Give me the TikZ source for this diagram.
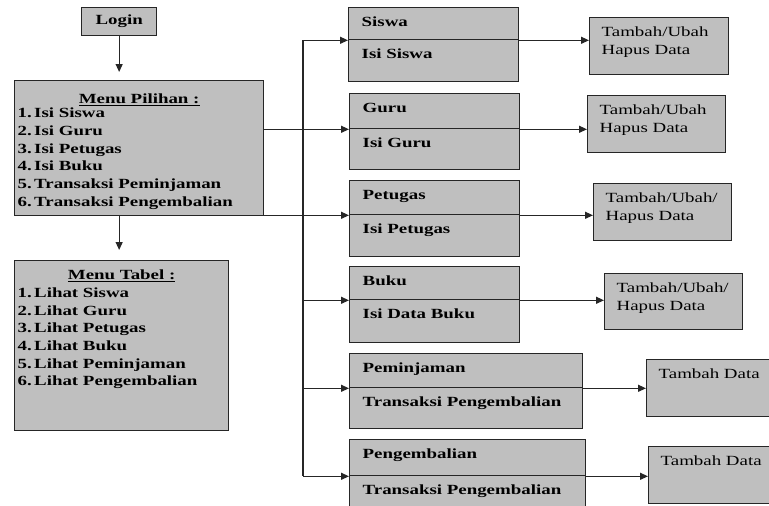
\documentclass[tikz,border=0pt]{standalone}
\usepackage{fontspec}
\setmainfont{Liberation Serif}[FakeStretch=1.35]
\usepackage{xcolor}
\usepackage{tikz}
\usetikzlibrary{arrows.meta}

\begin{document}
\begin{tikzpicture}[x=1pt,y=-1pt]
\tikzstyle{box} = [rectangle, anchor=north west, draw=black!85, line width=1.3pt, fill=gray!50, inner ysep=4pt, align=flush left, font=\fontsize{14}{17.7}\selectfont]
\tikzstyle{menu} = [box, inner xsep=3pt, font=\fontsize{14}{17.7}\selectfont\bfseries]
\tikzstyle{tabelbox} = [box, inner xsep=13pt, text height=15pt, font=\fontsize{14}{17.7}\selectfont\bfseries]
\tikzstyle{aksi} = [box, inner xsep=12pt, text height=15pt, text depth=34pt]
\tikzstyle{arrow} = [line width=1.2pt, draw=black!85, ->, >={Stealth[length=8pt,width=7pt,inset=0pt]}]

\useasboundingbox (0,0) rectangle (769,506);

% menu utama
\node (login) [box, minimum width=75pt, minimum height=28pt, align=center, font=\fontsize{14}{17.7}\selectfont\bfseries] at (81,7) {Login};
\node (pilihan) [menu, text width=243pt, text height=19pt, text depth=108pt] at (14,80)
  {\hfill\underline{Menu Pilihan :}\hfill\null\\[-3.5pt]
   1.\,Isi Siswa\\
   2.\,Isi Guru\\
   3.\,Isi Petugas\\
   4.\,Isi Buku\\
   5.\,Transaksi Peminjaman\\
   6.\,Transaksi Pengembalian};
\node (tabel) [menu, text width=208pt, text height=15pt, text depth=147pt] at (14,260)
  {\hfill\underline{Menu Tabel :}\hfill\null\\
   1.\,Lihat Siswa\\
   2.\,Lihat Guru\\
   3.\,Lihat Petugas\\
   4.\,Lihat Buku\\
   5.\,Lihat Peminjaman\\
   6.\,Lihat Pengembalian};

% tabel data
\node (siswa) [tabelbox, text width=144pt, text depth=9pt] at (348,7) {Siswa};
\node (isiSiswa) [tabelbox, text width=144pt, text depth=19pt] at (348,39) {Isi Siswa};
\node (guru) [tabelbox, text width=144pt, text depth=12pt] at (349,93) {Guru};
\node (isiGuru) [tabelbox, text width=144pt, text depth=18pt] at (349,128) {Isi Guru};
\node (petugas) [tabelbox, text width=144pt, text depth=11pt] at (349,180) {Petugas};
\node (isiPetugas) [tabelbox, text width=144pt, text depth=19pt] at (349,214) {Isi Petugas};
\node (buku) [tabelbox, text width=144pt, text depth=10pt] at (349,266) {Buku};
\node (isiBuku) [tabelbox, text width=144pt, text depth=20pt] at (349,299) {Isi Data Buku};
\node (pinjam) [tabelbox, text width=207pt, text depth=11pt] at (349,353) {Peminjaman};
\node (isiPinjam) [tabelbox, text width=207pt, text depth=18pt] at (349,387) {Transaksi Pengembalian};
\node (kembali) [tabelbox, text width=210pt, text depth=13pt] at (349,439) {Pengembalian};
\node (isiKembali) [tabelbox, text width=210pt, text depth=22pt] at (349,475) {Transaksi Pengembalian};

% aksi
\node (aksiSiswa) [aksi, text width=115pt] at (589,17) {Tambah/Ubah\\Hapus Data};
\node (aksiGuru) [aksi, text width=114pt] at (587,95) {Tambah/Ubah\\Hapus Data};
\node (aksiPetugas) [aksi, text width=114pt] at (593,183) {Tambah/Ubah/\\Hapus Data};
\node (aksiBuku) [aksi, text width=114pt, text depth=33pt] at (604,273) {Tambah/Ubah/\\Hapus Data};
\node (aksiPinjam) [aksi, text width=116pt] at (646,359) {Tambah Data};
\node (aksiKembali) [aksi, text width=116pt] at (648,446) {Tambah Data};

\coordinate (bus) at (303,0);

\draw [arrow, shorten >=8pt] (login.south) -- (login.south |- pilihan.north);
\draw [arrow, shorten >=10pt] (login.south |- pilihan.south) -- (login.south |- tabel.north);

\draw [line width=1.2pt, draw=black!85] (bus |- siswa.south) -- (bus |- kembali.south);
\draw [arrow] (bus |- siswa.south) -- (siswa.south west);
\draw [arrow] (pilihan.east |- guru.south) -- (guru.south west);
\draw [arrow] (pilihan.east |- petugas.south) -- (petugas.south west);
\draw [arrow] (bus |- buku.south) -- (buku.south west);
\draw [arrow] (bus |- pinjam.south) -- (pinjam.south west);
\draw [arrow] (bus |- kembali.south) -- (kembali.south west);

\draw [arrow] (siswa.south east) -- (siswa.south east -| aksiSiswa.west);
\draw [arrow] (guru.south east) -- (guru.south east -| aksiGuru.west);
\draw [arrow] (petugas.south east) -- (petugas.south east -| aksiPetugas.west);
\draw [arrow] (buku.south east) -- (buku.south east -| aksiBuku.west);
\draw [arrow] (pinjam.south east) -- (pinjam.south east -| aksiPinjam.west);
\draw [arrow] (kembali.south east) -- (kembali.south east -| aksiKembali.west);
\end{tikzpicture}
\end{document}
